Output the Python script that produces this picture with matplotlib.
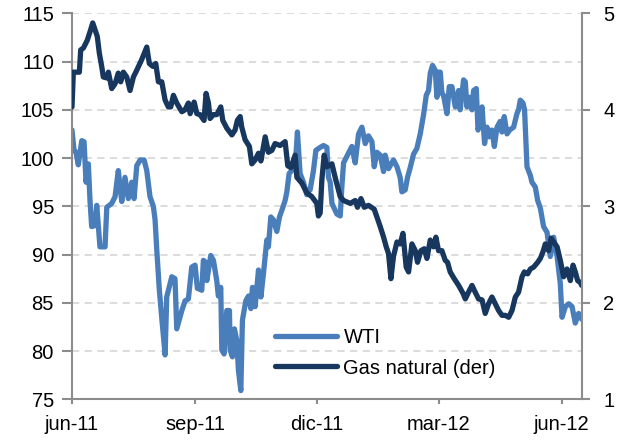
import matplotlib
matplotlib.use("Agg")
import matplotlib.pyplot as plt
import pandas as pd
from matplotlib.lines import Line2D

plt.rcParams['font.family'] = ['Liberation Sans', 'DejaVu Sans']

START = pd.Timestamp('2011-06-01')

# WTI (left axis) - days since 2011-06-01, value
wti_days = [0, 1.5, 3, 4.7, 7.3, 9, 10.5, 12.2, 13.5, 14.7, 17.2, 18.5, 20.9, 24.7, 26, 29.7,
            32.2, 34.6, 36.4, 37.2, 39.6, 42.1, 44.7, 46.4, 48.4, 50.9, 53.9, 55.9, 58.3, 60.8,
            62.1, 63.4, 65.3, 67.5, 69.6, 70.8, 74.6, 77, 78.3, 82.1, 84.5, 87, 89.5, 92, 93.7,
            97, 98.2, 100, 100.8, 103.7, 105.7, 108.2, 109.4, 111.2, 112, 113.7, 115.7, 117.7,
            118.2, 119.9, 121.4, 123.2, 124.4, 126.2, 127.4, 129.9, 131.9, 133.7, 134.9, 136.9,
            139.4, 141.2, 143.1, 145.6, 146.8, 148.6, 150.6, 153.1, 155.1, 156.9, 159.3, 160.6,
            162.3, 164.3, 166.8, 168.5, 170.5, 173, 175.5, 176.8, 178, 180.5, 182.3, 185.5, 188,
            190.5, 191.7, 193, 194.3, 198, 200.5, 201.7, 203, 206.7, 209.2, 211.7, 214.2, 216.7,
            219.2, 221.6, 224.2, 225.9, 227.9, 230.4, 232.9, 234.1, 236.6, 240.3, 242.9, 245.3,
            246.6, 249.1, 250.8, 252.8, 255.3, 257.8, 260.3, 262.8, 264.8, 266.5, 267.8, 269.5,
            271.5, 272.8, 274, 275.3, 276.5, 277.7, 280.3, 282, 284, 286.5, 289, 290.2, 292.7,
            294, 295.2, 297.2, 299, 300.2, 302.2, 303.5, 305.2, 306.5, 308.4, 310.2, 311.9,
            313.9, 315.7, 317.7, 320.1, 321.4, 323.1, 325.2, 327.1, 330.1, 332.6, 333.8, 335.1,
            337.1, 338.3, 340.1, 342.6, 343.8, 346.3, 348.1, 350.1, 352.5, 355.1, 357.5, 360,
            362.6, 365, 366.3, 368.8, 371.3, 373.8, 376.2, 378.7, 381]
wti_vals = [102.9, 100.8, 100.6, 99.3, 101.8, 101.7, 97.5, 99.4, 95.5, 92.9, 93.0, 95.1, 90.8,
            90.8, 94.9, 95.3, 96.0, 98.7, 96.4, 95.5, 98.0, 95.8, 97.5, 95.8, 99.2, 99.8, 99.8,
            98.7, 96.0, 95.0, 93.6, 90.4, 86.3, 82.8, 79.6, 85.6, 87.7, 87.5, 82.3, 84.2, 85.2,
            85.4, 88.7, 88.9, 86.5, 86.3, 89.4, 89.2, 87.3, 89.9, 89.4, 87.3, 85.7, 86.6, 80.1,
            79.7, 84.2, 84.2, 80.1, 79.4, 82.3, 81.1, 78.0, 75.9, 83.2, 85.2, 85.7, 84.4, 86.6,
            84.6, 88.4, 85.6, 88.0, 91.5, 90.8, 93.9, 93.6, 92.4, 93.9, 94.6, 95.6, 96.5, 98.4,
            98.7, 99.1, 102.7, 98.4, 97.5, 96.2, 96.7, 96.7, 98.7, 100.8, 101.1, 101.3, 101.1,
            98.0, 97.5, 95.3, 94.2, 94.0, 97.0, 99.5, 100.5, 101.2, 99.5, 102.5, 103.2, 101.5,
            102.3, 101.7, 99.1, 100.6, 100.3, 98.6, 100.3, 98.9, 99.8, 99.1, 98.0, 96.5, 96.7,
            98.0, 99.0, 100.4, 101.0, 102.5, 104.5, 106.5, 107.0, 108.8, 109.6, 109.1, 106.3,
            108.9, 108.9, 106.7, 106.5, 104.6, 107.4, 107.4, 105.3, 107.0, 105.0, 108.1, 107.9,
            105.3, 106.3, 105.0, 107.0, 107.2, 102.9, 103.9, 105.3, 101.5, 103.2, 102.2, 102.9,
            101.2, 103.2, 103.8, 102.7, 104.3, 102.5, 102.9, 103.2, 104.6, 105.0, 106.0, 105.7,
            105.0, 99.1, 98.2, 97.5, 97.0, 95.6, 94.8, 92.9, 92.3, 89.8, 91.8, 89.8, 87.0, 83.5,
            84.6, 84.9, 84.6, 82.9, 83.9, 83.3]

# Gas natural (right axis)
gas_days = [0, 1, 2.2, 5.5, 6.5, 8.5, 11.4, 13.5, 15.5, 17.2, 18.9, 20.4, 22.2, 23.4, 26, 27.2,
            29.7, 32.2, 34.6, 36.4, 38.4, 40.9, 43.4, 45.9, 48.4, 52.1, 55.9, 57.8, 60.4, 62.6,
            64.6, 67.1, 69.6, 72, 73.8, 75.8, 78.3, 82.1, 84.5, 87, 88.3, 91.3, 93.3, 95.7, 98.7,
            100.2, 102, 103.2, 105.7, 108.2, 111.2, 112.7, 115.7, 119.5, 121.9, 123.6, 125.7,
            126.9, 129.4, 132.6, 134.4, 136.9, 139.4, 141.2, 144.4, 146.8, 149.4, 151.8, 155.6,
            159.3, 161.3, 163.6, 166.8, 168.1, 171.8, 175.5, 179.3, 183, 184.2, 185.5, 186.8,
            188.5, 190.5, 194.3, 196.7, 200.5, 203, 208, 211.7, 213.4, 216, 218.5, 221.6, 225.9,
            227.9, 230.4, 232.9, 234.9, 236.6, 238.4, 240.3, 242.9, 245.3, 247.4, 249.8, 251.6,
            254.1, 256.6, 258.3, 260.8, 263.3, 265.3, 267.8, 270.3, 272, 274, 276.5, 279, 280.7,
            282.7, 285.7, 289, 292.2, 294, 296.4, 299, 301.4, 303.9, 306.5, 308.9, 311.4, 313.9,
            316.4, 318.9, 321.4, 323.9, 326.4, 328.9, 331.4, 333.8, 336.4, 338.1, 340.6, 342.6,
            345.1, 348.1, 350.1, 352.1, 353.8, 356.3, 358.1, 360, 362.6, 365, 367.5, 370, 372.5,
            374.5, 376.2, 378, 380, 381]
gas_vals = [4.03, 4.39, 4.39, 4.39, 4.62, 4.64, 4.72, 4.81, 4.90, 4.83, 4.76, 4.59, 4.45, 4.34,
            4.33, 4.39, 4.22, 4.27, 4.38, 4.29, 4.39, 4.34, 4.20, 4.34, 4.41, 4.52, 4.65, 4.48,
            4.45, 4.48, 4.29, 4.29, 4.10, 4.03, 4.03, 4.15, 4.07, 3.98, 4.00, 4.07, 3.96, 4.08,
            3.96, 3.95, 3.89, 4.17, 4.07, 3.91, 3.95, 3.95, 4.03, 3.89, 3.81, 3.74, 3.79, 3.89,
            3.93, 3.82, 3.69, 3.62, 3.44, 3.48, 3.55, 3.47, 3.72, 3.56, 3.58, 3.65, 3.63, 3.67,
            3.42, 3.40, 3.53, 3.30, 3.24, 3.14, 3.10, 3.03, 2.90, 2.93, 3.28, 3.53, 3.41, 3.44,
            3.30, 3.10, 3.06, 3.03, 3.06, 2.99, 3.08, 2.99, 3.01, 2.97, 2.89, 2.79, 2.68, 2.58,
            2.51, 2.25, 2.48, 2.63, 2.61, 2.72, 2.37, 2.32, 2.61, 2.54, 2.42, 2.54, 2.56, 2.46,
            2.65, 2.58, 2.68, 2.54, 2.54, 2.44, 2.42, 2.32, 2.25, 2.18, 2.10, 2.04, 2.11, 2.18,
            2.11, 2.04, 2.03, 1.89, 1.99, 2.06, 1.99, 1.92, 1.87, 1.87, 1.85, 1.92, 2.06, 2.11,
            2.27, 2.32, 2.30, 2.35, 2.37, 2.42, 2.46, 2.53, 2.61, 2.54, 2.67, 2.63, 2.58, 2.44,
            2.27, 2.35, 2.23, 2.39, 2.32, 2.23, 2.21, 2.18]

tick_dates = ['2011-06-01', '2011-09-01', '2011-12-01', '2012-03-01', '2012-06-01']
tick_labels = ['jun-11', 'sep-11', 'dic-11', 'mar-12', 'jun-12']
left_ticks = [75, 80, 85, 90, 95, 100, 105, 110, 115]
right_ticks = [1, 2, 3, 4, 5]
series_names = ['WTI', 'Gas natural (der)']

WTI_COLOR = '#4A7EBB'
GAS_COLOR = '#17375E'
AX_COLOR = '#8C8C8C'
FS = 14.5
LW = 3.8

wti_x = [START + pd.Timedelta(days=d) for d in wti_days]
gas_x = [START + pd.Timedelta(days=d) for d in gas_days]

fig = plt.figure(figsize=(6.19, 4.40), dpi=100)
ax = fig.add_axes([72 / 619, 1 - 399.3 / 440, (581.7 - 72) / 619, (399.3 - 13.3) / 440])
ax2 = ax.twinx()

ax.plot(wti_x, wti_vals, color=WTI_COLOR, lw=LW, solid_capstyle='round', solid_joinstyle='round')
ax2.plot(gas_x, gas_vals, color=GAS_COLOR, lw=LW, solid_capstyle='round', solid_joinstyle='round')

ax.set_ylim(75, 115)
ax2.set_ylim(1, 5)
ax.set_xlim(START, START + pd.Timedelta(days=381))

ax.set_yticks(left_ticks)
ax2.set_yticks(right_ticks)
ax.set_xticks([pd.Timestamp(d) for d in tick_dates])
ax.set_xticklabels(tick_labels)

for v in left_ticks[1:]:
    ax.axhline(v, color='#D9D9D9', lw=1.3, ls=(0, (4, 3)), zorder=0)

for a in (ax, ax2):
    a.spines['top'].set_visible(False)
    for s in ('left', 'right', 'bottom'):
        a.spines[s].set_color(AX_COLOR)
        a.spines[s].set_linewidth(1.5)
ax.spines['right'].set_visible(False)
ax2.spines['left'].set_visible(False)
ax2.spines['bottom'].set_visible(False)

ax.tick_params(axis='y', direction='out', length=7, width=1.5, color=AX_COLOR,
               labelsize=FS, pad=6, labelcolor='#000000')
ax.tick_params(axis='x', direction='out', length=3.5, width=1.5, color=AX_COLOR,
               labelsize=FS, pad=8, labelcolor='#000000')
ax2.tick_params(axis='y', direction='out', length=5.5, width=1.5, color=AX_COLOR,
                labelsize=FS, pad=10, labelcolor='#000000')

handles = [Line2D([], [], color=WTI_COLOR, lw=LW, solid_capstyle='round'),
           Line2D([], [], color=GAS_COLOR, lw=LW, solid_capstyle='round')]
leg = ax2.legend(handles, series_names, loc='center left',
                 bbox_to_anchor=((275 - 72) / 509.7, (399.3 - 353) / 386),
                 frameon=False, fontsize=FS, handlelength=3.1, handletextpad=0.3,
                 labelspacing=0.55, borderpad=0, borderaxespad=0)

fig.savefig('out.png', dpi=100)
